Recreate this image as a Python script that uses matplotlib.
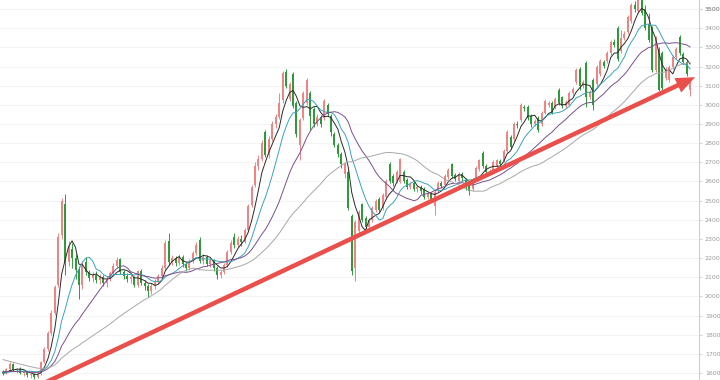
import numpy as np
import pandas as pd
import matplotlib
matplotlib.use("Agg")
import matplotlib.pyplot as plt
from matplotlib.patches import FancyArrowPatch

# hidden history before the first visible candle (only feeds the moving averages)
hist_close = [1840, 1825, 1830, 1810, 1795, 1800, 1780, 1770, 1760, 1745,
              1735, 1720, 1710, 1700, 1690, 1680, 1672, 1665, 1655, 1650,
              1645, 1640, 1632, 1628, 1620, 1618, 1612, 1608, 1610, 1604,
              1600, 1598, 1602, 1596, 1600, 1605, 1598, 1594, 1600, 1602]

# visible candles: open, high, low, close
ohlc = [
    (1605, 1615, 1592, 1598), (1598, 1625, 1595, 1620), (1620, 1660, 1612, 1645), (1645, 1650, 1610, 1615),
    (1615, 1628, 1600, 1622), (1622, 1630, 1595, 1600), (1600, 1612, 1585, 1606), (1606, 1610, 1580, 1588),
    (1588, 1600, 1575, 1594), (1594, 1598, 1570, 1578), (1578, 1602, 1572, 1596), (1596, 1665, 1592, 1658),
    (1658, 1735, 1650, 1725), (1725, 1820, 1715, 1810), (1810, 1930, 1800, 1915), (1915, 2060, 1905, 2050),
    (2060, 2330, 2050, 2310), (2320, 2515, 2300, 2500), (2480, 2535, 2110, 2180), (2180, 2290, 2160, 2260),
    (2250, 2280, 2150, 2200), (2200, 2220, 2090, 2140), (2140, 2160, 1985, 2060), (2060, 2185, 2040, 2170),
    (2180, 2205, 2110, 2125), (2125, 2140, 2080, 2095), (2095, 2125, 2075, 2110), (2110, 2130, 2070, 2085),
    (2085, 2115, 2065, 2100), (2100, 2110, 2055, 2070), (2070, 2105, 2050, 2090), (2090, 2135, 2080, 2120),
    (2120, 2175, 2110, 2160), (2160, 2205, 2150, 2190), (2195, 2200, 2115, 2125), (2125, 2140, 2090, 2105),
    (2105, 2120, 2075, 2090), (2090, 2110, 2070, 2100), (2100, 2105, 2050, 2060), (2060, 2140, 2050, 2130),
    (2130, 2145, 2060, 2070), (2070, 2085, 2035, 2055), (2055, 2065, 1995, 2030), (2030, 2070, 2015, 2055),
    (2055, 2090, 2040, 2075), (2075, 2115, 2065, 2105), (2105, 2165, 2095, 2150), (2150, 2295, 2140, 2280),
    (2290, 2330, 2165, 2180), (2180, 2215, 2165, 2200), (2200, 2210, 2160, 2175), (2175, 2220, 2165, 2205),
    (2205, 2215, 2155, 2170), (2170, 2180, 2135, 2150), (2150, 2195, 2140, 2185), (2185, 2235, 2175, 2225),
    (2225, 2285, 2215, 2270), (2295, 2310, 2175, 2185), (2185, 2220, 2170, 2205), (2205, 2215, 2160, 2170),
    (2170, 2200, 2155, 2190), (2190, 2195, 2135, 2150), (2150, 2160, 2090, 2110), (2110, 2140, 2095, 2125),
    (2125, 2175, 2115, 2165), (2165, 2240, 2155, 2230), (2230, 2295, 2220, 2280), (2310, 2330, 2255, 2270),
    (2270, 2315, 2260, 2300), (2300, 2320, 2265, 2285), (2285, 2355, 2280, 2345), (2345, 2480, 2335, 2470),
    (2475, 2580, 2465, 2570), (2580, 2700, 2570, 2680), (2680, 2740, 2660, 2720), (2720, 2815, 2705, 2800),
    (2860, 2870, 2730, 2740), (2740, 2835, 2725, 2820), (2820, 2915, 2810, 2900), (2900, 2950, 2880, 2935),
    (2935, 3060, 2925, 3010), (3025, 3175, 3010, 3165), (3170, 3185, 3090, 3100), (3030, 3120, 3020, 3110),
    (3160, 3170, 2985, 2995), (3010, 3020, 2830, 2850), (2790, 2930, 2712, 2920), (2930, 3070, 2920, 3060),
    (3010, 3140, 3000, 3130), (3060, 3070, 2870, 2940), (2980, 2990, 2885, 2900), (2900, 2950, 2890, 2935),
    (2935, 2945, 2885, 2900), (2930, 3030, 2920, 3020), (3000, 3010, 2940, 2950), (2940, 2950, 2840, 2860),
    (2850, 2860, 2780, 2790), (2790, 2800, 2730, 2745), (2745, 2755, 2670, 2690), (2640, 2700, 2620, 2690),
    (2650, 2660, 2450, 2460), (2420, 2430, 2110, 2130), (2150, 2400, 2080, 2390), (2340, 2450, 2330, 2440),
    (2480, 2490, 2390, 2400), (2410, 2420, 2340, 2360), (2360, 2410, 2350, 2400), (2400, 2470, 2390, 2460),
    (2450, 2510, 2440, 2500), (2510, 2520, 2440, 2450), (2460, 2540, 2450, 2530), (2520, 2615, 2510, 2605),
    (2690, 2700, 2590, 2600), (2630, 2640, 2575, 2590), (2600, 2660, 2590, 2650), (2595, 2725, 2590, 2715),
    (2650, 2660, 2590, 2600), (2610, 2620, 2560, 2570), (2570, 2595, 2560, 2585), (2590, 2600, 2550, 2560),
    (2560, 2580, 2545, 2570), (2570, 2580, 2535, 2550), (2560, 2570, 2510, 2520), (2520, 2545, 2510, 2535),
    (2535, 2545, 2500, 2510), (2470, 2555, 2425, 2545), (2555, 2600, 2545, 2590), (2590, 2600, 2565, 2575),
    (2580, 2640, 2575, 2630), (2625, 2670, 2615, 2660), (2690, 2695, 2620, 2630), (2635, 2645, 2600, 2615),
    (2600, 2650, 2590, 2640), (2640, 2650, 2600, 2620), (2610, 2620, 2555, 2570), (2580, 2590, 2530, 2550),
    (2560, 2620, 2550, 2610), (2615, 2680, 2605, 2670), (2665, 2720, 2655, 2710), (2750, 2760, 2670, 2680),
    (2680, 2690, 2640, 2650), (2650, 2665, 2635, 2655), (2650, 2710, 2640, 2700), (2680, 2720, 2670, 2710),
    (2705, 2715, 2680, 2690), (2705, 2770, 2700, 2760), (2760, 2870, 2750, 2860), (2830, 2845, 2770, 2780),
    (2820, 2910, 2810, 2900), (2900, 2915, 2880, 2895), (2920, 3010, 2910, 3000), (2990, 3000, 2970, 2985),
    (2990, 3000, 2920, 2930), (2940, 2950, 2885, 2900), (2900, 2925, 2890, 2915), (2930, 2940, 2860, 2870),
    (2900, 2970, 2890, 2960), (2960, 3030, 2950, 3020), (3000, 3020, 2990, 3010), (3010, 3020, 2950, 2960),
    (2990, 3040, 2980, 3030), (3080, 3090, 3000, 3010), (3040, 3045, 2985, 2995), (2995, 3025, 2985, 3015),
    (3000, 3075, 2995, 3060), (3060, 3095, 3050, 3085), (3120, 3195, 3110, 3180), (3190, 3200, 3080, 3100),
    (3100, 3130, 3090, 3120), (3220, 3230, 2990, 3040), (3040, 3080, 3030, 3065), (3130, 3140, 2975, 3000),
    (3110, 3210, 3100, 3200), (3160, 3240, 3150, 3230), (3225, 3235, 3195, 3205), (3230, 3280, 3220, 3270),
    (3270, 3340, 3260, 3330), (3330, 3345, 3300, 3315), (3400, 3410, 3230, 3240), (3280, 3390, 3270, 3350),
    (3350, 3385, 3340, 3370), (3380, 3470, 3370, 3460), (3440, 3530, 3430, 3520), (3520, 3540, 3485, 3500),
    (3490, 3580, 3480, 3560), (3560, 3600, 3470, 3480), (3500, 3520, 3390, 3400), (3420, 3480, 3330, 3340),
    (3400, 3410, 3170, 3180), (3180, 3360, 3170, 3350), (3290, 3300, 3070, 3080), (3270, 3280, 3060, 3090),
    (3140, 3200, 3130, 3190), (3130, 3210, 3120, 3200), (3200, 3260, 3190, 3250), (3250, 3300, 3240, 3290),
    (3355, 3365, 3260, 3270), (3265, 3275, 3215, 3225), (3225, 3235, 3150, 3160), (3080, 3135, 3045, 3125),
]

ma_windows = [5, 10, 20, 40]
ma_colors = ["#2a2a2a", "#3ba3b8", "#7a4f8c", "#a8a8a8"]

y_ticks = list(range(1600, 3600, 100))
arrow_from = (10.7, 1537)
arrow_to = (201.2, 3151)

opens = np.array([r[0] for r in ohlc], float)
highs = np.array([r[1] for r in ohlc], float)
lows = np.array([r[2] for r in ohlc], float)
closes = np.array([r[3] for r in ohlc], float)
n = len(closes)
x = np.arange(n)

allc = pd.Series(list(hist_close) + list(closes))
nh = len(hist_close)

fig = plt.figure(figsize=(7.2, 3.8), dpi=100)
ax = fig.add_axes([0, 0, 698.7 / 720, 1])

for yv in y_ticks:
    ax.axhline(yv, color="#f4f4f4", lw=0.8, zorder=0)

up = closes >= opens
red = "#ee8585"
green = "#2f9a3c"
cols = np.where(up, red, green)
ax.vlines(x, lows, highs, colors=cols, lw=0.7, zorder=2)
ax.bar(x, np.maximum(np.abs(closes - opens), 4), bottom=np.minimum(opens, closes),
       width=0.58, color=cols, zorder=3, linewidth=0)

for w, c in zip(ma_windows, ma_colors):
    ma = allc.rolling(w, min_periods=1).mean().values[nh:]
    ax.plot(x, ma, color=c, lw=0.7, zorder=4)

arr = FancyArrowPatch(arrow_from, arrow_to,
                      arrowstyle="simple,head_length=1.15,head_width=0.95,tail_width=0.27",
                      mutation_scale=12, color="#e9504b", lw=0, zorder=6)
ax.add_patch(arr)

ax.set_xlim(-0.87, 201.5)
ax.set_ylim(1563.4, 3547.8)
for s in ["left", "top", "bottom"]:
    ax.spines[s].set_visible(False)
ax.spines["right"].set_color("#d0d0d0")
ax.spines["right"].set_linewidth(0.8)
ax.yaxis.tick_right()
ax.set_yticks(y_ticks + [3500])
ax.tick_params(axis="y", direction="out", length=2.5, width=0.6, color="#cccccc",
               labelsize=4.5, labelcolor="#9a9a9a", pad=2)
ax.set_xticks([])

fig.savefig("out.png", dpi=100)
